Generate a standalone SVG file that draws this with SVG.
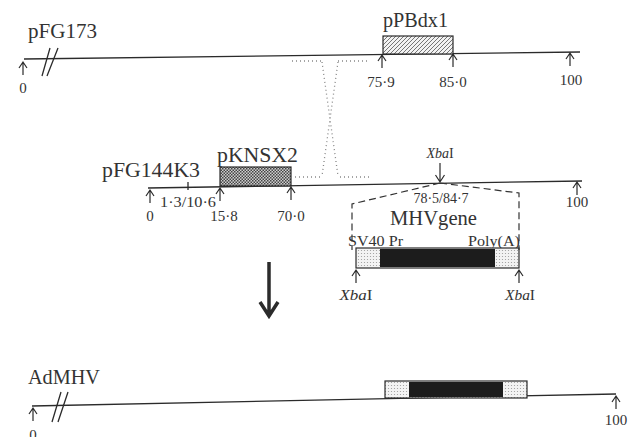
<svg xmlns="http://www.w3.org/2000/svg" width="639" height="437" viewBox="0 0 639 437">
<style>
  text { font-family: "Liberation Serif", "Times New Roman", serif; fill: #333; }
  .big { font-size: 21px; }
  .num { font-size: 15px; }
  .sm { font-size: 14px; }
  .mid { text-anchor: middle; }
  .ln { stroke: #2b2b2b; stroke-width: 1.3; fill: none; }
  .arr { stroke: #2b2b2b; stroke-width: 1.2; fill: none; }
  .box { stroke: #2b2b2b; stroke-width: 1.2; }
  .dot { stroke: #888; stroke-width: 1.3; stroke-dasharray: 1 3; fill: none; }
  .dash { stroke: #333; stroke-width: 1.2; stroke-dasharray: 7 4; fill: none; }
</style>
<defs>
  <pattern id="hatch" width="4" height="4" patternUnits="userSpaceOnUse">
    <rect width="4" height="4" fill="#f2f2f2"/>
    <path d="M-1,1 L1,-1 M0,4 L4,0 M3,5 L5,3" stroke="#555" stroke-width="0.8"/>
  </pattern>
  <pattern id="cross" width="3" height="3" patternUnits="userSpaceOnUse">
    <rect width="3" height="3" fill="#cfcfcf"/>
    <rect width="1.5" height="1.5" fill="#444"/>
    <rect x="1.5" y="1.5" width="1.5" height="1.5" fill="#444"/>
  </pattern>
  <pattern id="stip" width="3" height="3" patternUnits="userSpaceOnUse">
    <rect width="3" height="3" fill="#f3f3f3"/>
    <circle cx="1.5" cy="1.5" r="0.6" fill="#999"/>
  </pattern>
  <path id="up" d="M0,0 V-13 M-4,-7 L0,-13 L4,-7"/>
</defs>

<!-- pFG173 -->
<g id="pFG173">
  <line class="ln" x1="24" y1="59" x2="580" y2="52"/>
  <path class="ln" d="M42,76 L50,48 M47,76 L58,48"/>
  <use href="#up" x="23" y="75" class="arr"/>
  <use href="#up" x="382" y="68" class="arr"/>
  <use href="#up" x="453" y="67" class="arr"/>
  <use href="#up" x="570" y="66" class="arr"/>
  <text class="big" x="28" y="38" textLength="69" lengthAdjust="spacingAndGlyphs">pFG173</text>
  <text class="num mid" x="23" y="93">0</text>
  <text class="num mid" x="381" y="87">75·9</text>
  <text class="num mid" x="453" y="87">85·0</text>
  <text class="num mid" x="571" y="85">100</text>
</g>

<g id="pPBdx1">
  <rect class="box" x="383" y="36" width="70" height="18" fill="url(#hatch)"/>
  <text class="big" x="383" y="27" textLength="65" lengthAdjust="spacingAndGlyphs">pPBdx1</text>
</g>

<!-- pFG144K3 -->
<g id="pFG144K3">
  <line class="ln" x1="148" y1="188" x2="582" y2="181"/>
  <line class="ln" x1="188" y1="182" x2="188" y2="190"/>
  <use href="#up" x="150" y="203" class="arr"/>
  <use href="#up" x="220" y="201" class="arr"/>
  <use href="#up" x="291" y="200" class="arr"/>
  <use href="#up" x="577" y="195" class="arr"/>
  <text class="big" x="102" y="177" textLength="98" lengthAdjust="spacingAndGlyphs">pFG144K3</text>
  <text class="sm" x="160" y="207" textLength="56" lengthAdjust="spacingAndGlyphs">1·3/10·6</text>
  <text class="num mid" x="150" y="221">0</text>
  <text class="num mid" x="224" y="221">15·8</text>
  <text class="num mid" x="291" y="221">70·0</text>
  <text class="num mid" x="577" y="207">100</text>
  <text class="sm mid" x="440" y="158"><tspan font-style="italic">Xba</tspan>I</text>
  <path class="arr" d="M440,163 V182 M435.5,175 L440,182 L444.5,175"/>
  <text class="sm mid" x="441" y="203">78·5/84·7</text>
</g>

<g id="pKNSX2">
  <rect class="box" x="220" y="167" width="71" height="19" fill="url(#cross)"/>
  <text class="big" x="217" y="162" textLength="81" lengthAdjust="spacingAndGlyphs">pKNSX2</text>
</g>

<!-- MHV gene cassette -->
<g id="MHVgene">
  <text class="big" x="390" y="225" textLength="87" lengthAdjust="spacingAndGlyphs">MHVgene</text>
  <text class="num" x="348" y="246" textLength="55" lengthAdjust="spacingAndGlyphs">SV40 Pr</text>
  <text class="num" x="468" y="246" textLength="52" lengthAdjust="spacingAndGlyphs">Poly(A)</text>
  <rect x="356" y="248" width="163" height="20" fill="url(#stip)" class="box"/>
  <rect x="380" y="249" width="115" height="18" fill="#1c1c1c"/>
  <use href="#up" x="356" y="283" class="arr"/>
  <use href="#up" x="519" y="283" class="arr"/>
  <text class="num mid" x="356" y="300" textLength="33" lengthAdjust="spacingAndGlyphs"><tspan font-style="italic">Xba</tspan>I</text>
  <text class="num mid" x="520" y="300" textLength="30" lengthAdjust="spacingAndGlyphs"><tspan font-style="italic">Xba</tspan>I</text>
</g>

<!-- AdMHV -->
<g id="AdMHV">
  <line class="ln" x1="32" y1="406" x2="616" y2="394"/>
  <path class="ln" d="M52,422 L61,392 M58,422 L68,392"/>
  <use href="#up" x="33" y="421" class="arr"/>
  <use href="#up" x="616" y="409" class="arr"/>
  <text class="big" x="28" y="384" textLength="72" lengthAdjust="spacingAndGlyphs">AdMHV</text>
  <text class="num mid" x="33" y="440">0</text>
  <text class="num mid" x="616" y="425">100</text>
  <rect x="385" y="381" width="142" height="17" fill="url(#stip)" class="box"/>
  <rect x="409" y="382" width="94" height="15" fill="#1c1c1c"/>
</g>

<!-- connectors -->
<g id="connectors">
  <path class="dot" d="M292,61 H322 M338,61 H370"/>
  <path class="dot" d="M295,177 H320 M340,177 H370"/>
  <path class="dot" d="M322,62 L338,176 M338,62 L322,176"/>
  <path class="dash" d="M440,183 L352,204 V250"/>
  <path class="dash" d="M440,183 L519,193 V250"/>
  <path d="M269,262 V314 M260,302 L269,316 L278,302" stroke="#2b2b2b" stroke-width="3.5" fill="none"/>
</g>
</svg>
